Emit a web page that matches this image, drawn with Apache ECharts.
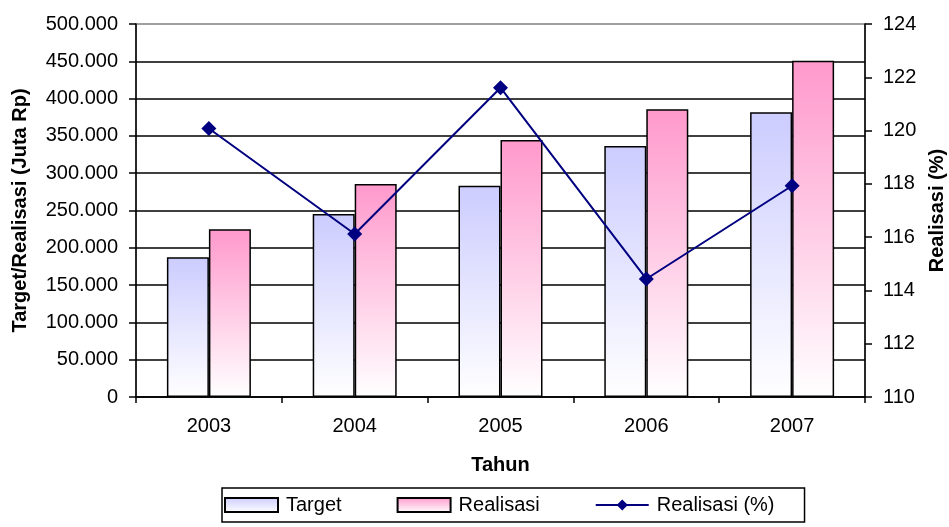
<!DOCTYPE html>
<html>
<head>
<meta charset="utf-8">
<script src="https://cdn.jsdelivr.net/npm/echarts@6/dist/echarts.min.js"></script>
<style>
  html, body { margin: 0; padding: 0; background: #fff; }
  #chart { width: 949px; height: 527px; }
</style>
</head>
<body>
<div id="chart"></div>
<script>
// data
var years = ['2003', '2004', '2005', '2006', '2007'];
var target = [187300, 245300, 283300, 336500, 381600];
var realisasi = [224800, 285500, 344500, 385700, 450800];
var realisasiPct = [120.08, 116.12, 121.61, 114.43, 117.93];

var font = 'Liberation Sans, Arial, sans-serif';

function fmtThousands(v) {
  return String(v).replace(/\B(?=(\d{3})+(?!\d))/g, '.');
}

var chart = echarts.init(document.getElementById('chart'));
chart.setOption({
  animation: false,
  textStyle: { fontFamily: font, color: '#000' },
  grid: {
    left: 136, right: 84, top: 24, bottom: 130,
    outerBoundsMode: 'none',
    containLabel: false,
    show: true, borderColor: '#808080', borderWidth: 1.5
  },
  legend: {
    left: 222, top: 488,
    borderColor: '#000', borderWidth: 1.5,
    padding: [7, 30, 7, 2],
    itemGap: 55, itemWidth: 53, itemHeight: 14,
    textStyle: { fontSize: 20, color: '#000', fontFamily: font, padding: [0, 0, 0, 3] },
    data: [
      { name: 'Target', icon: 'rect' },
      { name: 'Realisasi', icon: 'rect' },
      { name: 'Realisasi (%)' }
    ]
  },
  xAxis: {
    type: 'category',
    data: years,
    name: 'Tahun',
    nameLocation: 'middle',
    nameGap: 58,
    nameTextStyle: { fontSize: 20, fontWeight: 'bold', color: '#000' },
    axisLine: { lineStyle: { color: '#000', width: 1.5 } },
    axisTick: { show: true, length: 6, lineStyle: { color: '#000', width: 1.5 } },
    axisLabel: { fontSize: 20, color: '#000', margin: 19 }
  },
  yAxis: [{
    type: 'value',
    min: 0, max: 500000, interval: 50000,
    name: 'Target/Realisasi (Juta Rp)',
    nameLocation: 'middle',
    nameGap: 106,
    nameRotate: 90,
    nameTextStyle: { fontSize: 20, fontWeight: 'bold', color: '#000' },
    axisLine: { show: true, lineStyle: { color: '#000', width: 1.5 } },
    axisTick: { show: true, length: 7, lineStyle: { color: '#000', width: 1.5 } },
    axisLabel: { fontSize: 20, color: '#000', margin: 18, formatter: fmtThousands },
    splitLine: { show: true, showMaxLine: false, lineStyle: { color: '#000', width: 1.5 } }
  }, {
    type: 'value',
    min: 110, max: 124, interval: 2,
    position: 'right',
    name: 'Realisasi (%)',
    nameLocation: 'middle',
    nameGap: 62,
    nameRotate: 90,
    nameTextStyle: { fontSize: 20, fontWeight: 'bold', color: '#000' },
    axisLine: { show: true, lineStyle: { color: '#000', width: 1.5 } },
    axisTick: { show: true, length: 7, lineStyle: { color: '#000', width: 1.5 } },
    axisLabel: { fontSize: 20, color: '#000', margin: 18 },
    splitLine: { show: false }
  }],
  series: [{
    name: 'Target',
    type: 'bar',
    data: target,
    barWidth: 42,
    barGap: '0%',
    itemStyle: {
      borderColor: '#000', borderWidth: 1.5,
      color: new echarts.graphic.LinearGradient(0, 0, 0, 1, [
        { offset: 0, color: '#CCCCFF' },
        { offset: 1, color: '#FFFFFF' }
      ])
    }
  }, {
    name: 'Realisasi',
    type: 'bar',
    data: realisasi,
    barWidth: 42,
    itemStyle: {
      borderColor: '#000', borderWidth: 1.5,
      color: new echarts.graphic.LinearGradient(0, 0, 0, 1, [
        { offset: 0, color: '#FF99CC' },
        { offset: 1, color: '#FFFFFF' }
      ])
    }
  }, {
    name: 'Realisasi (%)',
    type: 'line',
    yAxisIndex: 1,
    data: realisasiPct,
    symbol: 'diamond',
    symbolSize: 15,
    lineStyle: { color: '#000080', width: 2 },
    itemStyle: { color: '#000080' },
    z: 5
  }]
});
</script>
</body>
</html>
